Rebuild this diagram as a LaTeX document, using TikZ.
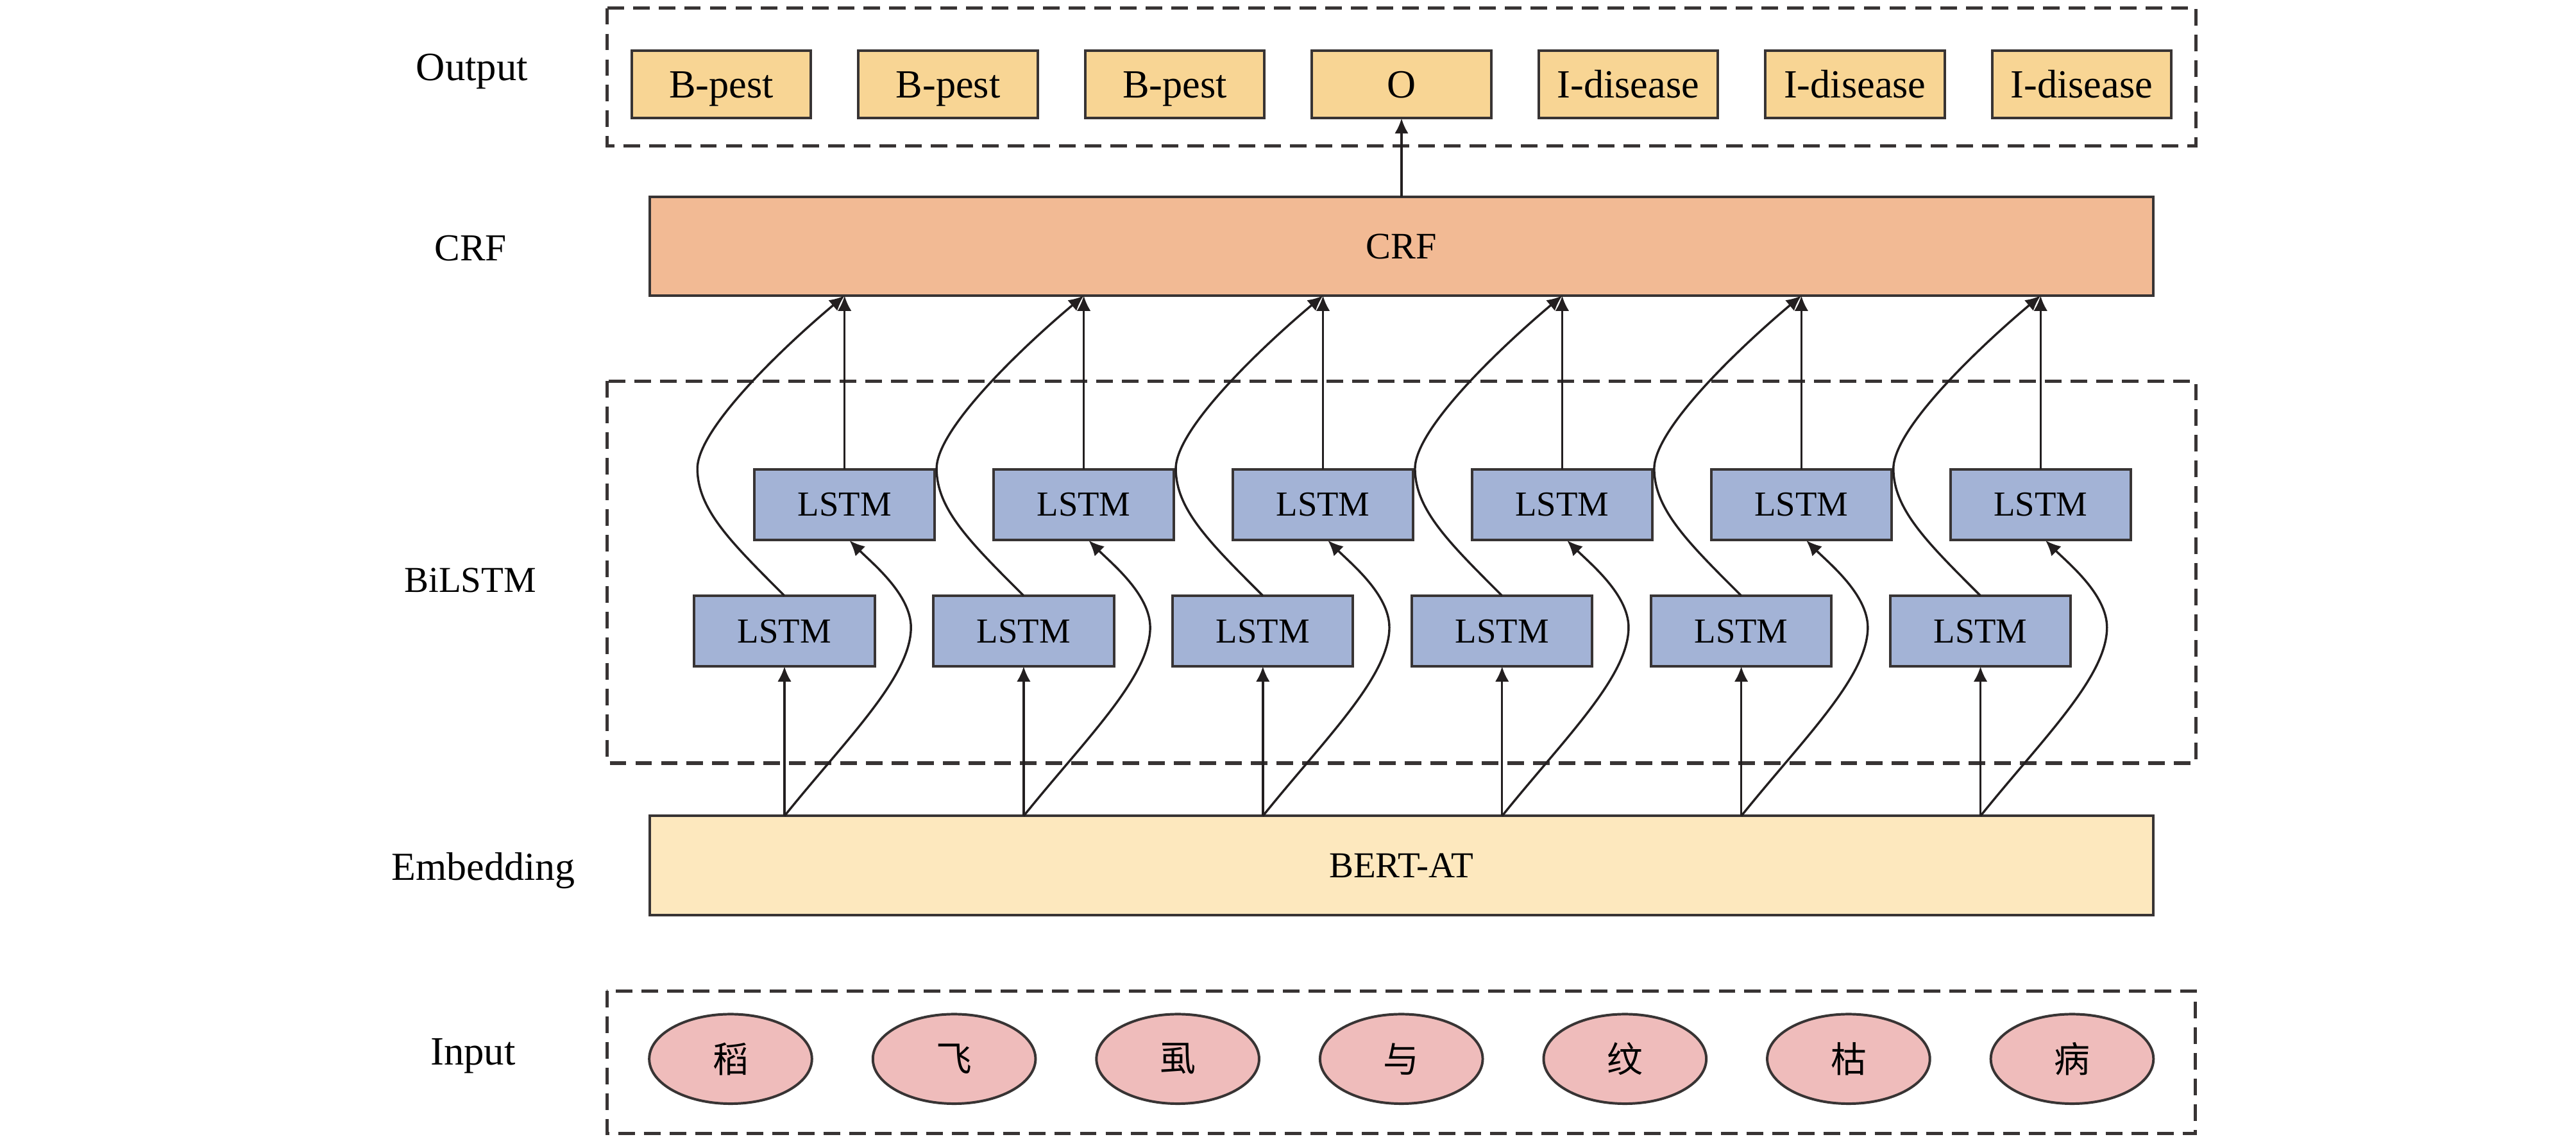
\documentclass[tikz,border=0pt]{standalone}
\usepackage{fontspec}
\setmainfont{Liberation Serif}
\newfontfamily\cjk{Noto Sans CJK SC}
\usetikzlibrary{arrows.meta,calc,shapes.geometric}
\definecolor{outfill}{HTML}{F8D594}
\definecolor{crffill}{HTML}{F2BA94}
\definecolor{lstmfill}{HTML}{A3B3D6}
\definecolor{bertfill}{HTML}{FDE8BE}
\definecolor{inpfill}{HTML}{EFBCBB}
\definecolor{bordc}{HTML}{383434}
\definecolor{linec}{HTML}{231F20}
\begin{document}
\begin{tikzpicture}[x=0.025cm,y=-0.025cm,
  box/.style={draw=bordc, line width=1.1pt, inner sep=0pt, outer sep=0pt, text depth=0pt},
  outbox/.style={box, fill=outfill, minimum width=2.725cm, minimum height=1.0325cm,
     text height=11.4pt, font=\fontsize{17.3pt}{20pt}\selectfont},
  lstmbox/.style={box, fill=lstmfill, minimum width=2.745cm, minimum height=1.075cm,
     text height=10.1pt, font=\fontsize{15.2pt}{18pt}\selectfont},
  crfbox/.style={box, fill=crffill, minimum width=22.88cm, minimum height=1.5075cm,
     text height=10.7pt, font=\fontsize{16.2pt}{19pt}\selectfont},
  bertbox/.style={box, fill=bertfill, minimum width=22.875cm, minimum height=1.51cm,
     text height=10.5pt, font=\fontsize{15.8pt}{19pt}\selectfont},
  tok/.style={ellipse, draw=bordc, line width=1.1pt, fill=inpfill, minimum width=2.475cm,
     minimum height=1.3625cm, inner sep=0pt, outer sep=0pt, font=\cjk\fontsize{15.5pt}{18pt}\selectfont},
  lbl/.style={anchor=base, inner sep=0pt},
  grp/.style={draw=bordc, line width=1.45pt, dash pattern=on 7.2pt off 3.9pt},
  conn/.style={draw=linec, line width=0.95pt, -{Latex[length=6.6pt,width=6pt]}},
]
\useasboundingbox (0,0) rectangle (1568,692);

% group frames
\draw[grp] (369.5,4.9) rectangle (1336.6,88.7);
\draw[grp] (369.6,232) rectangle (1336.6,464.6);
\draw[grp] (369.5,603.4) rectangle (1336.3,690.2);

% side labels
\node[lbl, font=\fontsize{17.4pt}{20pt}\selectfont] (lout) at (287.3,48.9) {Output};
\node[lbl, font=\fontsize{16.5pt}{20pt}\selectfont] (lcrf) at (286.4,158.7) {CRF};
\node[lbl, font=\fontsize{15.8pt}{20pt}\selectfont] (lbil) at (286.2,360.6) {BiLSTM};
\node[lbl, font=\fontsize{17.2pt}{20pt}\selectfont] (lemb) at (294.2,535.7) {Embedding};
\node[lbl, font=\fontsize{17.4pt}{20pt}\selectfont] (linp) at (287.9,648.2) {Input};

% output tags
\foreach \t [count=\j] in {B-pest,B-pest,B-pest,O,I-disease,I-disease,I-disease} {
  \pgfmathsetmacro\ox{439.1+138*(\j-1)}
  \node[outbox] (out\j) at (\ox,51.35) {\t};
}

% CRF and BERT
\node[crfbox] (crf) at (853.1,149.85) {CRF};
\node[bertbox] (bert) at (853,527) {BERT-AT};

% input tokens
\foreach \t [count=\j] in {稻,飞,虱,与,纹,枯,病} {
  \pgfmathsetmacro\tx{444.7+136.1*(\j-1)}
  \node[tok] (tok\j) at (\tx,644.7) {\t};
}

% LSTM cells
\foreach \i in {1,...,6} {
  \pgfmathsetmacro\cx{477.5+145.6*(\i-1)}
  \pgfmathsetmacro\ux{\cx+36.6}
  \node[lstmbox] (low\i) at (\cx,384.2) {LSTM};
  \node[lstmbox] (up\i) at (\ux,307.15) {LSTM};
}

% connectors
\foreach \i in {1,...,6} {
  \draw[conn] (low\i.south |- bert.north) -- (low\i.south);
  \draw[conn] (up\i.north) -- (up\i.north |- crf.south);
  \coordinate (mA\i) at ($(low\i.north)+(-53,-77.4)$);
  \coordinate (mB\i) at ($(low\i.south |- bert.north)+(77,-114.8)$);
  \coordinate (eB\i) at ($(up\i.south)+(3,0.4)$);
  \draw[conn] (low\i.north) .. controls +(-32,-32) and +(0,25) .. (mA\i)
              .. controls +(0,-25) and +(-34.5,28.9) .. (up\i.north |- crf.south);
  \draw[conn] (low\i.south |- bert.north) .. controls +(37.8,-47) and +(0,30) .. (mB\i)
              .. controls +(0,-20) and +(14,14) .. (eB\i);
}
\draw[conn] (crf.north -| out4.south) -- (out4.south);
\end{tikzpicture}
\end{document}
